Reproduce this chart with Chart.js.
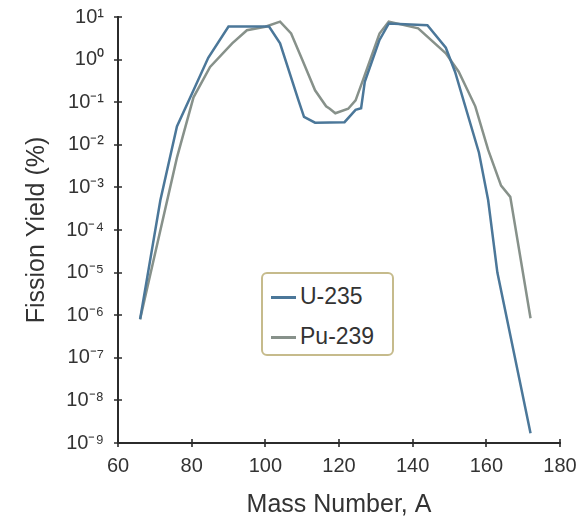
<!DOCTYPE html>
<html>
<head>
<meta charset="utf-8">
<script src="https://cdn.jsdelivr.net/npm/chart.js@4.4.0/dist/chart.umd.min.js"></script>
<style>
  html, body { margin: 0; padding: 0; background: #fff; }
  #wrap { position: relative; width: 583px; height: 523px; }
  #legend {
    position: absolute; left: 261px; top: 272px; width: 129px; height: 80px;
    border: 2px solid #c6bb8c; border-radius: 6px; background: #fff;
    font: 23px "Liberation Sans", Arial, sans-serif; color: #333;
  }
  #legend .item { position: absolute; left: 8px; height: 28px; line-height: 28px; }
  #legend .swatch { display: inline-block; width: 25px; height: 3px; vertical-align: middle; margin-right: 4px; }
</style>
</head>
<body>
<div id="wrap">
  <canvas id="chart" width="583" height="523"></canvas>
  <div id="legend"></div>
</div>
<script>
"use strict";

// Mass number / yield (%) pairs
const massU235 = [66, 71.5, 76, 80.5, 84.5, 90, 101, 104, 109, 110.5, 113.5, 121.5, 124.5, 126, 127, 131, 133.5, 144, 149, 151.5, 158, 160.5, 163, 172];
const yieldU235 = [8e-7, 5e-4, 0.027, 0.19, 1.1, 6.0, 6.0, 2.4, 0.11, 0.045, 0.033, 0.034, 0.066, 0.072, 0.3, 2.9, 7.0, 6.4, 1.9, 0.52, 0.0065, 5e-4, 1e-5, 1.7e-9];

const massPu239 = [66, 76, 80.5, 85, 91, 95, 100, 104, 107, 110, 113.5, 116.5, 117.5, 119, 122.5, 124.5, 126.5, 131, 133.5, 141.5, 149, 152.5, 157, 160.5, 164, 166.5, 172];
const yieldPu239 = [8e-7, 0.005, 0.13, 0.67, 2.4, 4.9, 5.9, 7.8, 4.1, 1.0, 0.19, 0.08, 0.07, 0.055, 0.07, 0.11, 0.33, 4.1, 7.8, 5.4, 1.4, 0.52, 0.08, 0.0076, 1.1e-3, 6e-4, 8.5e-7];

const seriesNames = ['U-235', 'Pu-239'];
const seriesColors = ['#4b7799', '#87918a'];

// y ticks: powers of ten from 10^-9 to 10^1
const yExponents = [-9, -8, -7, -6, -5, -4, -3, -2, -1, 0, 1];
const xTicks = [60, 80, 100, 120, 140, 160, 180];

const SUP = { '-': '\u207B', '0': '\u2070', '1': '\u00B9', '2': '\u00B2', '3': '\u00B3',
  '4': '\u2074', '5': '\u2075', '6': '\u2076', '7': '\u2077', '8': '\u2078', '9': '\u2079' };
const toSup = n => String(n).split('').map(c => SUP[c]).join('');

const AXIS_COLOR = '#2b2b2b';
const FONT = '"Liberation Sans", Arial, sans-serif';

// axis lines with ticks crossing the axis on both sides
const crossAxes = {
  id: 'crossAxes',
  afterDraw(chart) {
    const { ctx, chartArea: a, scales: { x, y } } = chart;
    ctx.save();
    ctx.strokeStyle = AXIS_COLOR;
    ctx.lineWidth = 2;
    ctx.beginPath();
    ctx.moveTo(a.left, a.top - 1);
    ctx.lineTo(a.left, a.bottom);
    ctx.lineTo(a.right + 1, a.bottom);
    ctx.stroke();
    ctx.lineWidth = 1.6;
    ctx.beginPath();
    y.ticks.forEach(t => {
      const py = Math.round(y.getPixelForValue(t.value));
      ctx.moveTo(a.left - 4, py);
      ctx.lineTo(a.left + 4, py);
    });
    x.ticks.forEach(t => {
      const px = Math.round(x.getPixelForValue(t.value));
      ctx.moveTo(px, a.bottom - 4);
      ctx.lineTo(px, a.bottom + 4);
    });
    ctx.stroke();
    ctx.restore();
  }
};

const toPoints = (xs, ys) => xs.map((v, i) => ({ x: v, y: ys[i] }));

const chart = new Chart(document.getElementById('chart'), {
  type: 'line',
  data: {
    datasets: [
      {
        label: seriesNames[0],
        data: toPoints(massU235, yieldU235),
        borderColor: seriesColors[0],
        borderWidth: 2.5,
        pointRadius: 0,
        tension: 0,
        fill: false
      },
      {
        label: seriesNames[1],
        data: toPoints(massPu239, yieldPu239),
        borderColor: seriesColors[1],
        borderWidth: 2.5,
        pointRadius: 0,
        tension: 0,
        fill: false
      }
    ]
  },
  options: {
    responsive: false,
    animation: false,
    layout: { padding: { top: 17, right: 23, left: 0, bottom: 0 } },
    plugins: {
      legend: { display: false },
      tooltip: { enabled: false }
    },
    scales: {
      x: {
        type: 'linear',
        min: 60,
        max: 180,
        afterBuildTicks: s => { s.ticks = xTicks.map(v => ({ value: v })); },
        afterFit: s => { s.height = 80; s.paddingLeft = 0; s.paddingRight = 0; },
        grid: { display: false, drawTicks: false },
        border: { display: false },
        ticks: { color: '#333', font: { family: FONT, size: 20 }, padding: 11, maxRotation: 0 },
        title: {
          display: true,
          text: 'Mass Number, A',
          color: '#333',
          font: { family: FONT, size: 25 },
          padding: { top: 0, bottom: 3 }
        }
      },
      y: {
        type: 'logarithmic',
        min: 1e-9,
        max: 10,
        afterBuildTicks: s => { s.ticks = yExponents.map(e => ({ value: Math.pow(10, e) })); },
        afterFit: s => { s.width = 118; s.paddingTop = 0; s.paddingBottom = 0; },
        grid: { display: false, drawTicks: false },
        border: { display: false },
        ticks: {
          color: '#333',
          font: { family: FONT, size: 20 },
          padding: 14,
          callback: v => '10' + toSup(Math.round(Math.log10(v)))
        },
        title: {
          display: true,
          text: 'Fission Yield (%)',
          color: '#333',
          font: { family: FONT, size: 25 },
          padding: { top: 22, bottom: 0 }
        }
      }
    }
  },
  plugins: [crossAxes]
});

// legend box inside the plot
const legendEl = document.getElementById('legend');
seriesNames.forEach((name, i) => {
  const item = document.createElement('div');
  item.className = 'item';
  item.style.top = (8 + i * 40) + 'px';
  const sw = document.createElement('span');
  sw.className = 'swatch';
  sw.style.background = seriesColors[i];
  item.appendChild(sw);
  item.appendChild(document.createTextNode(name));
  legendEl.appendChild(item);
});
</script>
</body>
</html>
